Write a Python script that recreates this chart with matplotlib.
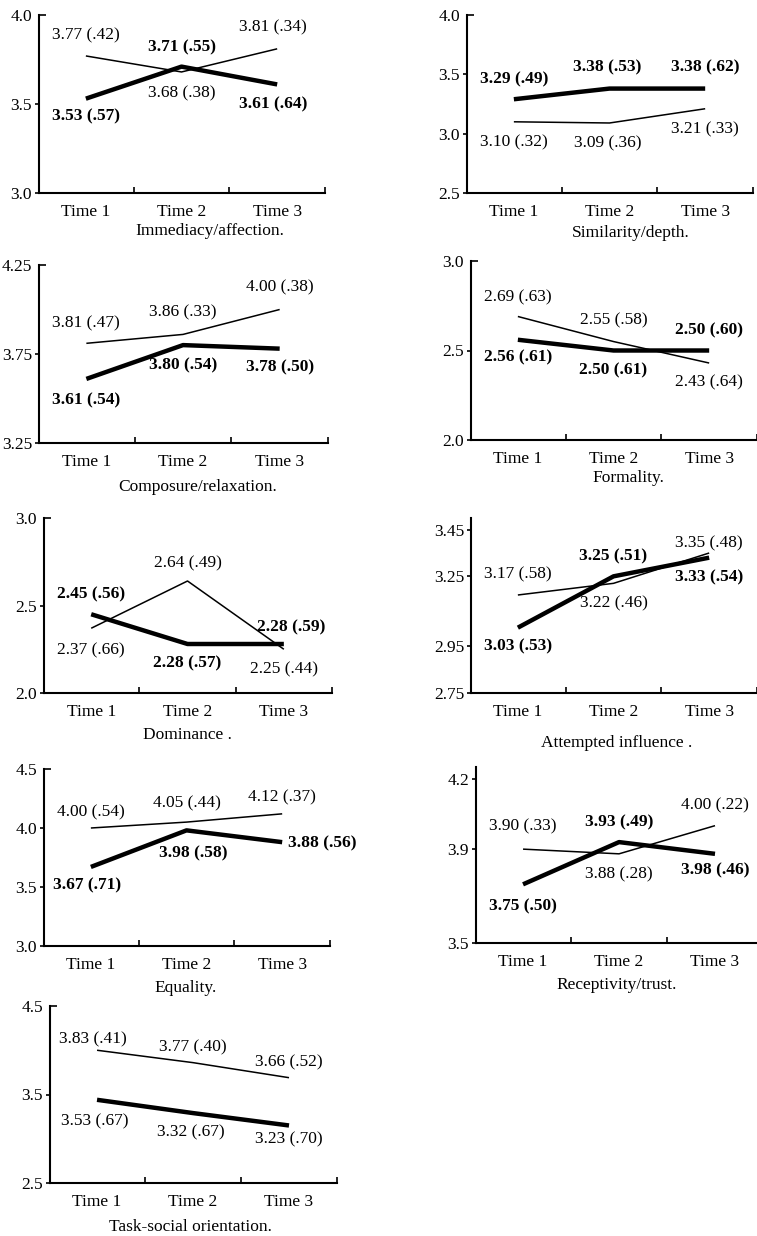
import matplotlib
matplotlib.use("Agg")
import matplotlib.pyplot as plt

plt.rcParams["font.family"] = ["Liberation Serif", "DejaVu Serif"]
plt.rcParams["font.size"] = 12.5

times = ["Time 1", "Time 2", "Time 3"]
x = [1, 2, 3]

# thin line / thick line means, as drawn in the figure, and the printed "mean (sd)" labels
immediacy_thin = [3.77, 3.68, 3.81]
immediacy_thick = [3.53, 3.71, 3.61]
immediacy_thin_lab = ["3.77 (.42)", "3.68 (.38)", "3.81 (.34)"]
immediacy_thick_lab = ["3.53 (.57)", "3.71 (.55)", "3.61 (.64)"]

similarity_thin = [3.10, 3.09, 3.21]
similarity_thick = [3.29, 3.38, 3.38]
similarity_thin_lab = ["3.10 (.32)", "3.09 (.36)", "3.21 (.33)"]
similarity_thick_lab = ["3.29 (.49)", "3.38 (.53)", "3.38 (.62)"]

composure_thin = [3.81, 3.86, 4.00]
composure_thick = [3.61, 3.80, 3.78]
composure_thin_lab = ["3.81 (.47)", "3.86 (.33)", "4.00 (.38)"]
composure_thick_lab = ["3.61 (.54)", "3.80 (.54)", "3.78 (.50)"]

formality_thin = [2.69, 2.55, 2.43]
formality_thick = [2.56, 2.50, 2.50]
formality_thin_lab = ["2.69 (.63)", "2.55 (.58)", "2.43 (.64)"]
formality_thick_lab = ["2.56 (.61)", "2.50 (.61)", "2.50 (.60)"]

dominance_thin = [2.37, 2.64, 2.25]
dominance_thick = [2.45, 2.28, 2.28]
dominance_thin_lab = ["2.37 (.66)", "2.64 (.49)", "2.25 (.44)"]
dominance_thick_lab = ["2.45 (.56)", "2.28 (.57)", "2.28 (.59)"]

influence_thin = [3.17, 3.22, 3.35]
influence_thick = [3.03, 3.25, 3.33]
influence_thin_lab = ["3.17 (.58)", "3.22 (.46)", "3.35 (.48)"]
influence_thick_lab = ["3.03 (.53)", "3.25 (.51)", "3.33 (.54)"]

equality_thin = [4.00, 4.05, 4.12]
equality_thick = [3.67, 3.98, 3.88]
equality_thin_lab = ["4.00 (.54)", "4.05 (.44)", "4.12 (.37)"]
equality_thick_lab = ["3.67 (.71)", "3.98 (.58)", "3.88 (.56)"]

receptivity_thin = [3.90, 3.88, 4.00]
receptivity_thick = [3.75, 3.93, 3.88]
receptivity_thin_lab = ["3.90 (.33)", "3.88 (.28)", "4.00 (.22)"]
receptivity_thick_lab = ["3.75 (.50)", "3.93 (.49)", "3.98 (.46)"]

task_thin = [4.00, 3.86, 3.69]
task_thick = [3.44, 3.29, 3.15]
task_thin_lab = ["3.83 (.41)", "3.77 (.40)", "3.66 (.52)"]
task_thick_lab = ["3.53 (.67)", "3.32 (.67)", "3.23 (.70)"]

titles = ["Immediacy/affection.", "Similarity/depth.", "Composure/relaxation.",
          "Formality.", "Dominance .", "Attempted influence .", "Equality.",
          "Receptivity/trust.", "Task-social orientation."]

yticks = [[3.0, 3.5, 4.0], [2.5, 3.0, 3.5, 4.0], [3.25, 3.75, 4.25],
          [2.0, 2.5, 3.0], [2.0, 2.5, 3.0], [2.75, 2.95, 3.25, 3.45],
          [3.0, 3.5, 4.0, 4.5], [3.5, 3.9, 4.2], [2.5, 3.5, 4.5]]
ytick_labels = [["3.0", "3.5", "4.0"], ["2.5", "3.0", "3.5", "4.0"], ["3.25", "3.75", "4.25"],
                ["2.0", "2.5", "3.0"], ["2.0", "2.5", "3.0"], ["2.75", "2.95", "3.25", "3.45"],
                ["3.0", "3.5", "4.0", "4.5"], ["3.5", "3.9", "4.2"], ["2.5", "3.5", "4.5"]]

thin_series = [immediacy_thin, similarity_thin, composure_thin, formality_thin, dominance_thin,
               influence_thin, equality_thin, receptivity_thin, task_thin]
thick_series = [immediacy_thick, similarity_thick, composure_thick, formality_thick, dominance_thick,
                influence_thick, equality_thick, receptivity_thick, task_thick]
thin_labels = [immediacy_thin_lab, similarity_thin_lab, composure_thin_lab, formality_thin_lab,
               dominance_thin_lab, influence_thin_lab, equality_thin_lab, receptivity_thin_lab,
               task_thin_lab]
thick_labels = [immediacy_thick_lab, similarity_thick_lab, composure_thick_lab, formality_thick_lab,
                dominance_thick_lab, influence_thick_lab, equality_thick_lab, receptivity_thick_lab,
                task_thick_lab]

# layout: axes box in pixels (left, top, right, bottom), y range, label offsets (px), title place
W, H = 757, 1236
boxes = [(39, 15, 325, 193), (467, 15, 753, 193), (39, 265, 328, 443), (471, 261, 757, 440),
         (44, 518, 332, 693), (471, 518, 757, 693), (44, 769, 330, 946), (476, 767, 763, 943),
         (50, 1006, 337, 1183)]
ylims = [(3.0, 4.0), (2.5, 4.0), (3.25, 4.25), (2.0, 3.0), (2.0, 3.0), (2.75, 3.50),
         (3.0, 4.5), (3.5, 4.25), (2.5, 4.5)]
thin_off = [[(0, 21), (0, -21), (-4, 21)], [(0, -21), (-2, -20), (0, -21)],
            [(0, 20), (0, 22), (0, 22)], [(0, 19), (0, 21), (0, -19)],
            [(0, -22), (0, 18), (0, -20)], [(0, 21), (0, -20), (0, 10)],
            [(0, 16), (0, 19), (0, 16)], [(0, 23), (0, -21), (0, 20)],
            [(-4, 11), (0, 15), (0, 15)]]
thick_off = [[(0, -18), (0, 19), (-4, -20)], [(0, 20), (-2, 21), (0, 21)],
             [(0, -21), (0, -20), (0, -19)], [(0, -18), (0, -20), (0, 20)],
             [(0, 20), (0, -19), (7, 17)], [(0, -19), (0, 20), (0, -20)],
             [(-4, -18), (7, -23), (40, -1)], [(0, -22), (0, 20), (0, -17)],
             [(-2, -22), (-2, -19), (0, -14)]]
title_x = [2.30, 2.22, 2.15, 2.16, 2.0, 2.03, 1.99, 1.98, 1.97]
title_dy = [38, 40, 44, 38, 42, 50, 42, 42, 44]
thick_bold = [True, True, True, True, True, True, True, True, False]

fig = plt.figure(figsize=(W / 100, H / 100), dpi=100)

for i in range(9):
    l, t, r, b = boxes[i]
    ax = fig.add_axes([l / W, (H - b) / H, (r - l) / W, (b - t) / H])
    ax.patch.set_visible(False)
    for s in ["top", "right"]:
        ax.spines[s].set_visible(False)
    for s in ["left", "bottom"]:
        ax.spines[s].set_linewidth(1.5)

    ax.plot(x, thin_series[i], color="black", lw=1.1, solid_capstyle="butt")
    ax.plot(x, thick_series[i], color="black", lw=3.2, solid_capstyle="butt")

    ax.set_xlim(0.51, 3.5)
    ax.set_ylim(*ylims[i])

    ax.set_xticks(x, times)
    ax.set_xticks([1.5, 2.5, 3.5], minor=True)
    ax.tick_params(axis="x", which="major", length=0, pad=8, labelsize=12.5)
    ax.tick_params(axis="x", which="minor", direction="in", length=4, width=1.2)

    ticks = yticks[i]
    labs = ytick_labels[i]
    if ticks[-1] == ylims[i][1]:
        ax.set_yticks(ticks[:-1], labs[:-1])
        ax.set_yticks([ticks[-1]], [labs[-1]], minor=True)
    else:
        ax.set_yticks(ticks, labs)
    ax.tick_params(axis="y", which="major", direction="out", length=3, width=1.2,
                   pad=2, labelsize=12.5)
    ax.tick_params(axis="y", which="minor", direction="in", length=5, width=1.2,
                   pad=5, labelsize=12.5)

    for j in range(3):
        ax.annotate(thin_labels[i][j], (x[j], thin_series[i][j]), xytext=thin_off[i][j],
                    textcoords="offset pixels", ha="center", va="center", fontsize=12.5)
        ax.annotate(thick_labels[i][j], (x[j], thick_series[i][j]), xytext=thick_off[i][j],
                    textcoords="offset pixels", ha="center", va="center", fontsize=12.5,
                    fontweight="bold" if thick_bold[i] else "normal")

    ax.annotate(titles[i], (title_x[i], 0), xycoords=("data", "axes fraction"),
                xytext=(0, -title_dy[i]), textcoords="offset pixels",
                ha="center", va="center", fontsize=12.5)

fig.savefig("out.png", dpi=100)
